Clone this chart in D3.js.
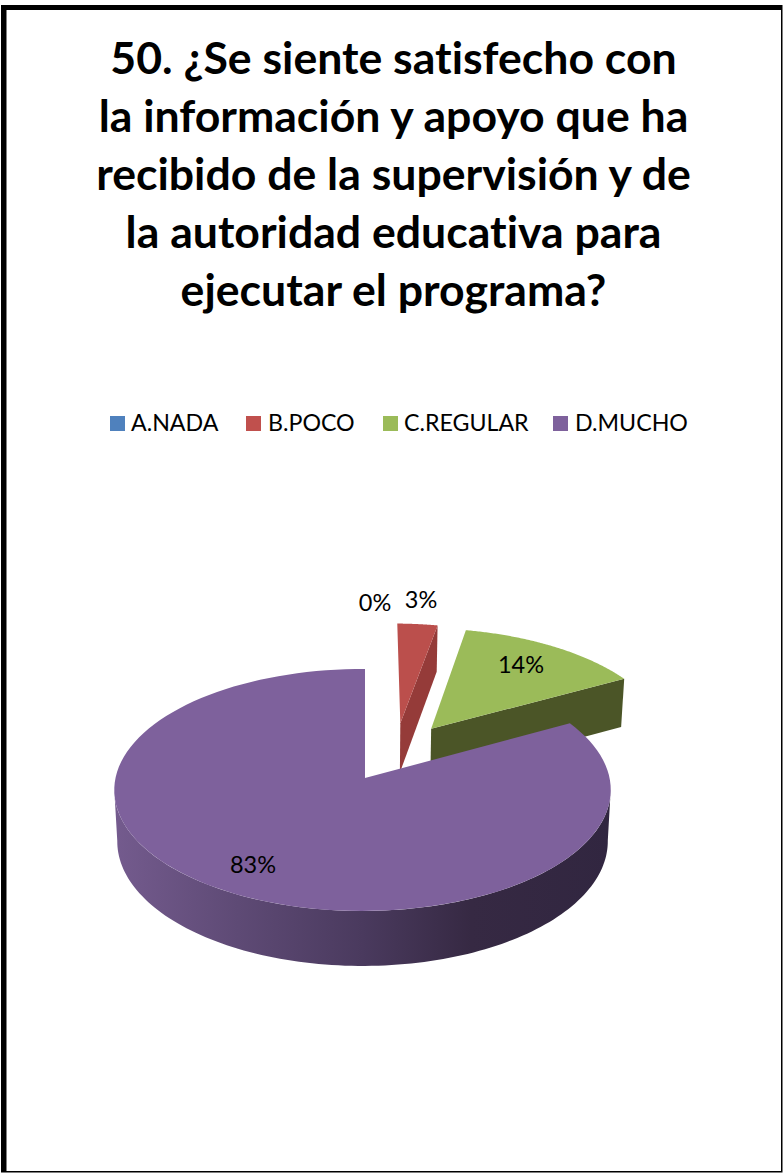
<!DOCTYPE html>
<html><head><meta charset="utf-8">
<script src="https://cdn.jsdelivr.net/npm/d3@7"></script>
<style>html,body{margin:0;padding:0;background:#fff}svg{display:block}text{font-family:Lato,"Open Sans",sans-serif;fill:#000;font-variant-ligatures:none}</style>
</head><body><svg id="c" width="783" height="1173"></svg>
<script>
const titleLines = ["50. ¿Se siente satisfecho con","la información y apoyo que ha","recibido de la supervisión y de","la autoridad educativa para","ejecutar el programa?"];
const categories = ["A.NADA","B.POCO","C.REGULAR","D.MUCHO"];
const values = [0,3,14,83];
const valueLabels = ["0%","3%","14%","83%"];
const colors = ["#4f81bd","#c0504d","#9bbb59","#7e619c"];

const svg = d3.select("#c");
svg.append("rect").attr("x",1).attr("y",5).attr("width",781.5).attr("height",1167.5).attr("fill","#000");
svg.append("rect").attr("x",6.5).attr("y",10).attr("width",774.5).attr("height",1161).attr("fill","#fff");

svg.append("g").selectAll("text").data(titleLines).join("text")
  .attr("x",393.5).attr("y",(d,i)=>74+i*58).attr("text-anchor","middle")
  .attr("font-size",44.6).attr("font-weight",700).text(d=>d);

// legend
const legendSwatch = d3.scaleOrdinal(categories,[110,246,383,553]);
const legendLabel = d3.scaleOrdinal(categories,[131,268,404,575]);
const legend = svg.append("g").selectAll("g").data(categories).join("g");
legend.append("rect").attr("x",d=>legendSwatch(d)).attr("y",416).attr("width",15).attr("height",15).attr("fill",(d,i)=>colors[i]);
legend.append("text").attr("x",d=>legendLabel(d)).attr("y",431).attr("font-size",23.2).text(d=>d);

// projection of the tilted disc
const OX=365,OY=778,SX=247,SY=119.8,KY=0.099,KX=0.01;
function proj(X,Y,z){
  const w=1+KY*Y+KX*X;
  return [OX+SX*X/w*(1-0.012*z), OY+51*z-SY*Y/w*(1+0.03*z)];
}
const arcs = d3.pie().sort(null).value(d=>d).startAngle(0).endAngle(2*Math.PI)(values);
const offset = [[0,0],[0.15,0.48],[0.28,0.43],[0,0]];
const rim=(a,i,z)=>proj(offset[i][0]+Math.sin(a),offset[i][1]+Math.cos(a),z);
const ctr=(i,z)=>proj(offset[i][0],offset[i][1],z);
const line=d3.line();
const sweep=(a0,a1,i,z)=>d3.range(0,121).map(k=>rim(a0+(a1-a0)*k/120,i,z));

const defs=svg.append("defs");
const grad=defs.append("linearGradient").attr("id","wall").attr("gradientUnits","userSpaceOnUse").attr("x1",114).attr("x2",611).attr("y1",0).attr("y2",0);
[[0,"#745b8e"],[0.25,"#5e4a75"],[0.5,"#4a3a5e"],[0.72,"#362943"],[1,"#312640"]].forEach(s=>grad.append("stop").attr("offset",s[0]).attr("stop-color",s[1]));

const pie=svg.append("g");
// red slice
{const i=1,s=arcs[i];
 pie.append("path").attr("fill","#953b39").attr("d",line([ctr(i,0),rim(s.endAngle,i,0),rim(s.endAngle,i,1),ctr(i,1)])+"Z");
 pie.append("path").attr("fill","#bb4f4c").attr("d",line([ctr(i,0),...sweep(s.startAngle,s.endAngle,i,0)])+"Z");}
// green slice
{const i=2,s=arcs[i];
 pie.append("path").attr("fill","#4b5527").attr("d",line([ctr(i,0),rim(s.endAngle,i,0),rim(s.endAngle,i,1),ctr(i,1)])+"Z");
 pie.append("path").attr("fill","#9bbb59").attr("d",line([ctr(i,0),...sweep(s.startAngle,s.endAngle,i,0)])+"Z");}
// purple slice
{const i=3,s=arcs[i];
 const a0=Math.PI*0.53,a1=Math.PI*1.47;
 pie.append("path").attr("fill","url(#wall)").attr("d",line([...sweep(a0,a1,i,0),...sweep(a1,a0,i,1)])+"Z");
 pie.append("path").attr("fill",colors[3]).attr("d",line([ctr(i,0),...sweep(s.startAngle,s.endAngle,i,0)])+"Z");}

// value labels
const labelPos=d3.scaleOrdinal(categories,[[375,611],[421,608],[521,673],[253,873]]);
svg.append("g").selectAll("text").data(categories).join("text")
  .attr("x",d=>labelPos(d)[0]).attr("y",d=>labelPos(d)[1]).attr("text-anchor","middle")
  .attr("font-size",23.5).text((d,i)=>valueLabels[i]);
</script></body></html>
